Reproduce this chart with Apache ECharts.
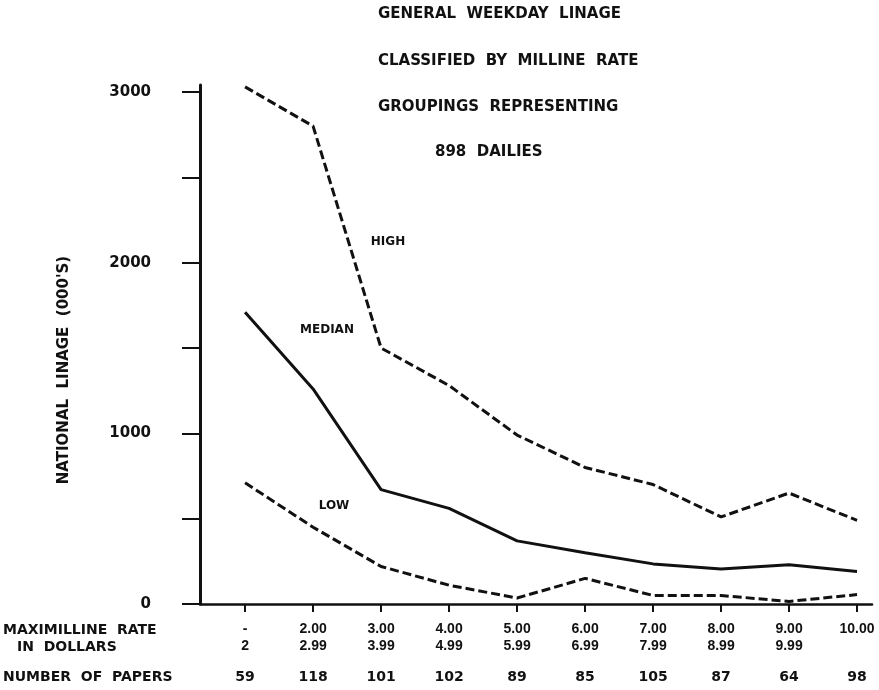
<!DOCTYPE html>
<html>
<head>
<meta charset="utf-8">
<script src="https://cdn.jsdelivr.net/npm/echarts@6/dist/echarts.min.js"></script>
<style>
html,body{margin:0;padding:0;background:#fff;}
#chart{width:879px;height:690px;}
</style>
</head>
<body>
<div id="chart"></div>
<script>
// ---- data ----
const rateLow   = ['-', '2.00', '3.00', '4.00', '5.00', '6.00', '7.00', '8.00', '9.00', '10.00'];
const rateHigh  = ['2', '2.99', '3.99', '4.99', '5.99', '6.99', '7.99', '8.99', '9.99', ''];
const papers    = ['59', '118', '101', '102', '89', '85', '105', '87', '64', '98'];
const highVals   = [3030, 2800, 1500, 1280, 990, 800, 700, 510, 650, 490];
const medianVals = [1710, 1260, 670, 560, 370, 300, 235, 205, 230, 190];
const lowVals    = [710, 450, 220, 110, 35, 150, 50, 50, 15, 55];
const yTicks = [0, 500, 1000, 1500, 2000, 2500, 3000];
const yLabels = [0, 1000, 2000, 3000];
const titleLines = ['GENERAL  WEEKDAY  LINAGE', 'CLASSIFIED  BY  MILLINE  RATE', 'GROUPINGS  REPRESENTING', '898  DAILIES'];

const idx = rateLow.map((_, i) => i);
const toPairs = arr => arr.map((v, i) => [i, v]);
const INK = '#111';
const BOLD = '"DejaVu Sans", sans-serif';

const chart = echarts.init(document.getElementById('chart'), null, {renderer: 'canvas'});

const titleTops = [7, 54, 100, 145];
const titleLefts = [378, 378, 378, 435];

chart.setOption({
  animation: false,
  backgroundColor: '#fff',
  title: titleLines.map((t, i) => ({
    text: t, left: titleLefts[i], top: titleTops[i], padding: 0,
    textStyle: {fontFamily: BOLD, fontWeight: 'bold', fontSize: 15, color: INK}
  })),
  grid: {left: 200, right: 7, top: 85, bottom: 86, containLabel: false},
  xAxis: [
    {
      type: 'value', min: -0.663, max: 9.22, position: 'bottom',
      splitLine: {show: false},
      axisLine: {show: true, onZero: false, lineStyle: {color: INK, width: 2.5}},
      axisTick: {show: true, customValues: idx, length: 8, inside: false, lineStyle: {color: INK, width: 2}},
      axisLabel: {
        customValues: idx, margin: 17,
        formatter: v => rateLow[Math.round(v)] + '\n' + rateHigh[Math.round(v)],
        fontFamily: '"Liberation Sans", sans-serif', fontWeight: 'bold', fontSize: 14,
        lineHeight: 17, color: INK, verticalAlign: 'top'
      }
    },
    {
      type: 'value', min: -0.663, max: 9.22, position: 'bottom', offset: 0,
      splitLine: {show: false},
      axisLine: {show: false, onZero: false},
      axisTick: {show: false},
      axisLabel: {
        customValues: idx, margin: 65,
        formatter: v => papers[Math.round(v)],
        fontFamily: BOLD, fontWeight: 'bold', fontSize: 14, lineHeight: 17, color: INK
      }
    }
  ],
  yAxis: {
    type: 'value', min: 0, max: 3041,
    splitLine: {show: false},
    axisLine: {show: true, onZero: false, lineStyle: {color: INK, width: 3}},
    axisTick: {show: true, customValues: yTicks, length: 18, lineStyle: {color: INK, width: 2}},
    axisLabel: {
      customValues: yLabels, margin: 49,
      formatter: v => String(Math.round(v)),
      fontFamily: BOLD, fontWeight: 'bold', fontSize: 15, color: INK
    }
  },
  graphic: [
    {type: 'text', x: 64, y: 370, rotation: Math.PI / 2,
     style: {text: "NATIONAL  LINAGE  (000'S)", font: 'bold 15px "DejaVu Sans"', fill: INK, align: 'center', verticalAlign: 'middle'}},
    {type: 'text', x: 3, y: 630,
     style: {text: 'MAXIMILLINE  RATE', font: 'bold 14px "DejaVu Sans"', fill: INK, align: 'left', verticalAlign: 'middle'}},
    {type: 'text', x: 17, y: 647,
     style: {text: 'IN  DOLLARS', font: 'bold 14px "DejaVu Sans"', fill: INK, align: 'left', verticalAlign: 'middle'}},
    {type: 'text', x: 3, y: 677,
     style: {text: 'NUMBER  OF  PAPERS', font: 'bold 14px "DejaVu Sans"', fill: INK, align: 'left', verticalAlign: 'middle'}},
    {type: 'text', x: 388, y: 242,
     style: {text: 'HIGH', font: 'bold 12px "DejaVu Sans"', fill: INK, align: 'center', verticalAlign: 'middle'}},
    {type: 'text', x: 327, y: 330,
     style: {text: 'MEDIAN', font: 'bold 12px "DejaVu Sans"', fill: INK, align: 'center', verticalAlign: 'middle'}},
    {type: 'text', x: 334, y: 506,
     style: {text: 'LOW', font: 'bold 12px "DejaVu Sans"', fill: INK, align: 'center', verticalAlign: 'middle'}}
  ],
  series: [
    {name: 'HIGH', type: 'line', xAxisIndex: 0, data: toPairs(highVals), symbol: 'none',
     lineStyle: {color: INK, width: 3, type: [9, 4]}},
    {name: 'MEDIAN', type: 'line', xAxisIndex: 0, data: toPairs(medianVals), symbol: 'none',
     lineStyle: {color: INK, width: 3, type: 'solid'}},
    {name: 'LOW', type: 'line', xAxisIndex: 0, data: toPairs(lowVals), symbol: 'none',
     lineStyle: {color: INK, width: 3, type: [9, 4]}}
  ]
});
</script>
</body>
</html>
